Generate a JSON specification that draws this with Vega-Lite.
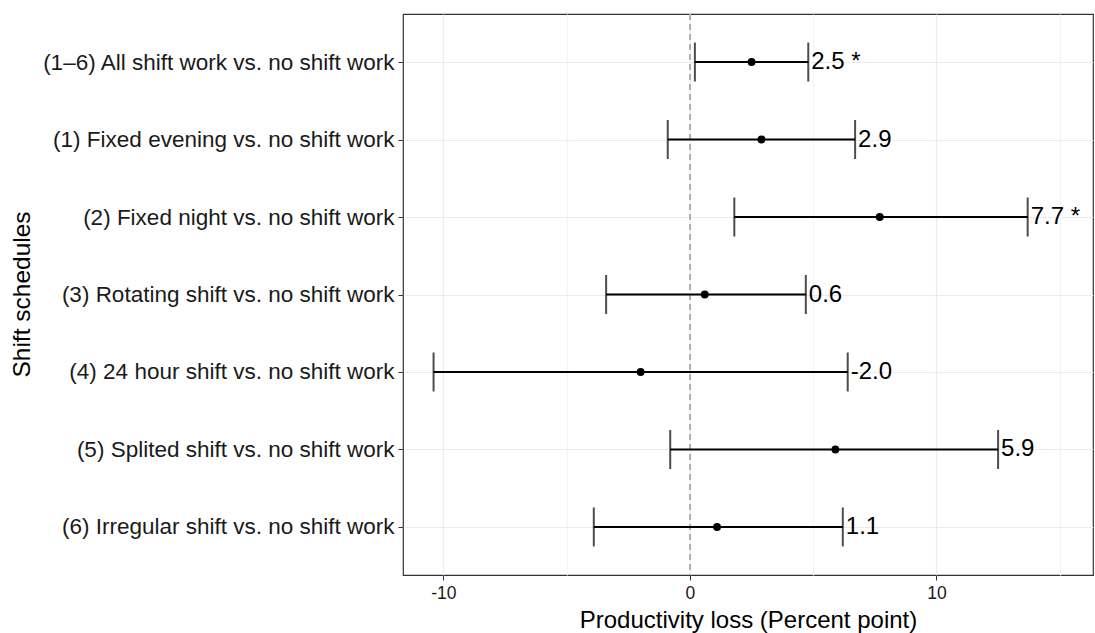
{
  "$schema": "https://vega.github.io/schema/vega-lite/v6.json",
  "width": 690,
  "height": 561,
  "autosize": "none",
  "padding": {"left": 403, "top": 14, "right": 2, "bottom": 58},
  "background": "white",
  "config": {
    "font": "Liberation Sans",
    "view": {"stroke": "#333333", "strokeWidth": 1.2}
  },
  "data": {
    "values": [
      {"group": "(1–6) All shift work vs. no shift work", "est": 2.5, "lo": 0.2, "hi": 4.8, "label": "2.5 *"},
      {"group": "(1) Fixed evening vs. no shift work", "est": 2.9, "lo": -0.9, "hi": 6.7, "label": "2.9"},
      {"group": "(2) Fixed night vs. no shift work", "est": 7.7, "lo": 1.8, "hi": 13.7, "label": "7.7 *"},
      {"group": "(3) Rotating shift vs. no shift work", "est": 0.6, "lo": -3.4, "hi": 4.7, "label": "0.6"},
      {"group": "(4) 24 hour shift vs. no shift work", "est": -2.0, "lo": -10.4, "hi": 6.4, "label": "-2.0"},
      {"group": "(5) Splited shift vs. no shift work", "est": 5.9, "lo": -0.8, "hi": 12.5, "label": "5.9"},
      {"group": "(6) Irregular shift vs. no shift work", "est": 1.1, "lo": -3.9, "hi": 6.2, "label": "1.1"}
    ]
  },
  "encoding": {
    "y": {
      "field": "group",
      "type": "nominal",
      "sort": null,
      "scale": {"type": "point", "padding": 0.62},
      "axis": {
        "title": "Shift schedules",
        "titleFont": "Liberation Sans",
        "titleFontSize": 24.5,
        "titleFontWeight": "normal",
        "titleColor": "#000000",
        "titleX": -381,
        "titleY": 280,
        "titleAngle": -90,
        "titleAlign": "center",
        "titleBaseline": "middle",
        "labelFontSize": 22.5,
        "labelColor": "#1a1a1a",
        "labelPadding": 4,
        "labelLimit": 450,
        "tickColor": "#333333",
        "tickSize": 5,
        "domain": false,
        "grid": true,
        "gridColor": "#ebebeb",
        "gridWidth": 1.2
      }
    }
  },
  "layer": [
    {
      "mark": {"type": "rule", "color": "#b0b0b0", "strokeDash": [6, 4], "strokeWidth": 1.2},
      "encoding": {"x": {"datum": 0, "type": "quantitative"}, "y": null}
    },
    {
      "mark": {"type": "rule", "color": "#000000", "strokeWidth": 2},
      "encoding": {
        "x": {
          "field": "lo",
          "type": "quantitative",
          "scale": {"domain": [-11.64, 16.35], "nice": false, "zero": false},
          "axis": {
            "title": "Productivity loss (Percent point)",
            "titleFont": "Liberation Sans",
            "titleFontSize": 24,
            "titleFontWeight": "normal",
            "titleColor": "#000000",
            "titlePadding": 7,
            "values": [-10, -5, 0, 5, 10, 15],
            "labelExpr": "datum.value % 10 === 0 ? toString(datum.value) : ''",
            "labelFontSize": 17.5,
            "labelColor": "#1a1a1a",
            "labelPadding": 4,
            "tickColor": {"condition": {"test": "datum.value % 10 === 0", "value": "#333333"}, "value": "transparent"},
            "tickSize": 5,
            "domain": false,
            "grid": true,
            "gridColor": {"condition": {"test": "datum.value % 10 === 0", "value": "#ebebeb"}, "value": "#f4f4f4"},
            "gridWidth": 1.2
          }
        },
        "x2": {"field": "hi"}
      }
    },
    {
      "mark": {"type": "tick", "orient": "vertical", "color": "#000000", "size": 39, "thickness": 2},
      "encoding": {"x": {"field": "lo", "type": "quantitative"}}
    },
    {
      "mark": {"type": "tick", "orient": "vertical", "color": "#000000", "size": 39, "thickness": 2},
      "encoding": {"x": {"field": "hi", "type": "quantitative"}}
    },
    {
      "mark": {"type": "point", "filled": true, "color": "#000000", "opacity": 1, "size": 62},
      "encoding": {"x": {"field": "est", "type": "quantitative"}}
    },
    {
      "mark": {"type": "text", "align": "left", "baseline": "middle", "dx": 3, "fontSize": 24, "color": "#000000", "font": "Liberation Sans"},
      "encoding": {"x": {"field": "hi", "type": "quantitative"}, "text": {"field": "label"}}
    }
  ]
}
